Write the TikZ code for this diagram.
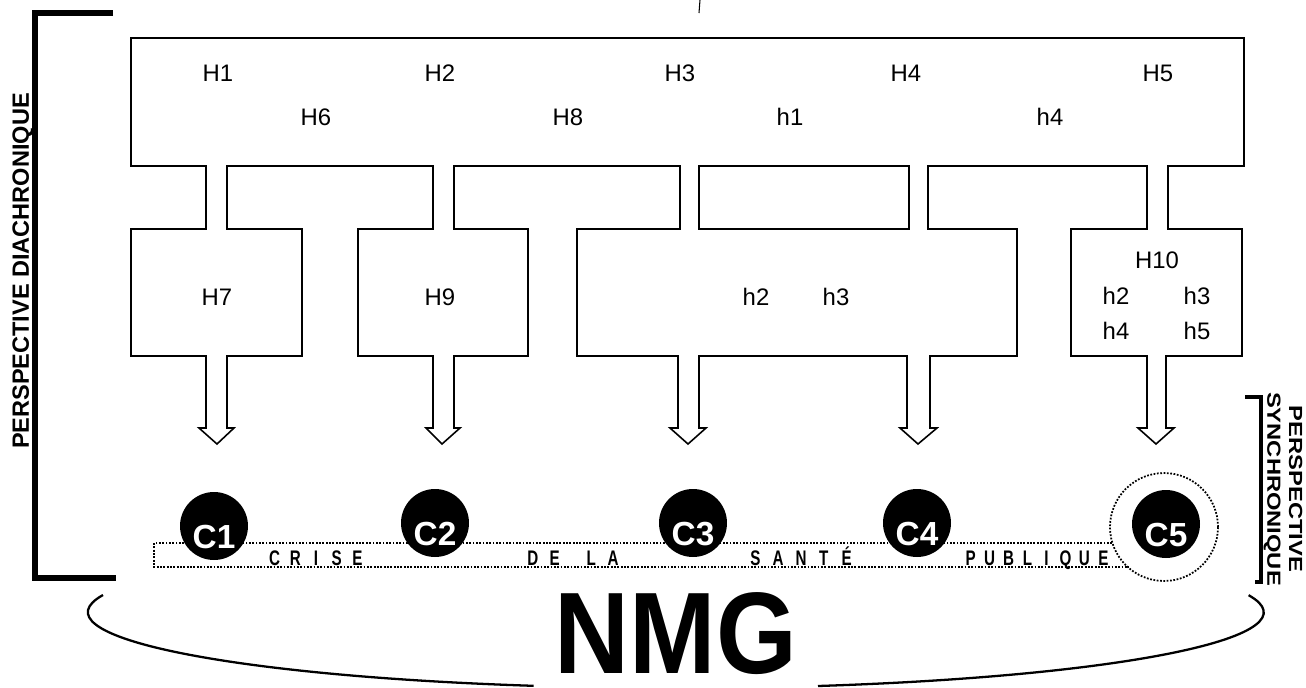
\documentclass[tikz,border=0pt]{standalone}
\usepackage{fontspec}
\setmainfont{Liberation Sans}
\usetikzlibrary{calc}

\newlength{\pitch}
\newcommand{\spread}[2][12.4pt]{\setlength{\pitch}{#1}%
  \foreach \l in {#2}{\makebox[\pitch]{\scalebox{0.72}[1]{\l}}}}

\begin{document}
\begin{tikzpicture}[x=0.02cm, y=-0.02cm,
  outline/.style={line width=0.9pt, line join=miter},
  hyp/.style={font=\fontsize{13.6}{15}\selectfont, inner sep=0pt},
  cball/.style={circle, fill=black, minimum size=1.36cm, inner sep=0pt},
  clab/.style={text=white, font=\bfseries\fontsize{19}{20}\selectfont, inner sep=0pt},
  crisis/.style={font=\bfseries\fontsize{12}{12}\selectfont, inner sep=0pt, anchor=base},
  dots/.style={line width=1pt, dash pattern=on 1pt off 0.9pt},
  bracket/.style={line width=3.2pt},
  side/.style={font=\bfseries, inner sep=0pt}]
  \fill[white] (0,0) rectangle (1306,687);
  \useasboundingbox (0,0) rectangle (1306,687);

  % hypotheses block with its channels and arrows
  \draw[outline] (131,38) -- (1244,38) -- (1244,166) -- (1168,166) -- (1168,229)
    -- (1242,229) -- (1242,356) -- (1166,356)
    -- (1166,428) -- (1174,428) -- (1156,444) -- (1138,428) -- (1147,428) -- (1147,356)
    -- (1071,356) -- (1071,229) -- (1147,229) -- (1147,166) -- (928,166) -- (928,229)
    -- (1017,229) -- (1017,356) -- (930,356)
    -- (930,428) -- (937,428) -- (918,444) -- (900,428) -- (907,428) -- (907,356)
    -- (699,356)
    -- (699,428) -- (706,428) -- (688,444) -- (670,428) -- (678,428) -- (678,356)
    -- (577,356) -- (577,229) -- (680,229) -- (680,166) -- (454,166) -- (454,229)
    -- (528,229) -- (528,356) -- (454,356)
    -- (454,428) -- (460,428) -- (442,444) -- (426,428) -- (433,428) -- (433,356)
    -- (358,356) -- (358,229) -- (433,229) -- (433,166) -- (227,166) -- (227,229)
    -- (302,229) -- (302,356) -- (227,356)
    -- (227,428) -- (234,428) -- (217,444) -- (199,428) -- (206,428) -- (206,356)
    -- (131,356) -- (131,229) -- (206,229) -- (206,166) -- (131,166) -- cycle;
  \draw[outline] (699,166) rectangle (909,229);
  \draw[line width=0.6pt] (700,0) -- (699,13);

  % labels of the hypotheses
  \node[hyp] (H1) at (218,73) {H1};
  \node[hyp] (H2) at (440,73) {H2};
  \node[hyp] (H3) at (680,73) {H3};
  \node[hyp] (H4) at (906,73) {H4};
  \node[hyp] (H5) at (1158,73) {H5};
  \node[hyp] (H6) at (316,117) {H6};
  \node[hyp] (H8) at (568,117) {H8};
  \node[hyp] (h1top) at (790,117) {h1};
  \node[hyp] (h4top) at (1050,117) {h4};
  \node[hyp] (H7) at (217,297) {H7};
  \node[hyp] (H9) at (440,297) {H9};
  \node[hyp] (h2mid) at (756,297) {h2};
  \node[hyp] (h3mid) at (836,297) {h3};
  \node[hyp] (H10) at (1157,260) {H10};
  \node[hyp] (h2right) at (1116,296) {h2};
  \node[hyp] (h3right) at (1197,296) {h3};
  \node[hyp] (h4right) at (1116,331) {h4};
  \node[hyp] (h5right) at (1197,331) {h5};

  % crisis band
  \draw[dots] (1112,543) -- (154,543) -- (154,567) -- (1129,567);
  \draw[dots] (1164,527) circle[radius=1.08cm];
  \node[cball] (c1) at (214,526) {};
  \node[cball] (c2) at (435,523) {};
  \node[cball] (c3) at (693,523) {};
  \node[cball] (c4) at (917,523) {};
  \node[cball] (c5) at (1166,524) {};
  \node[clab] (c1txt) at ([yshift=-6pt]c1.center) {C1};
  \node[clab] (c2txt) at ([yshift=-6pt]c2.center) {C2};
  \node[clab] (c3txt) at ([yshift=-6pt]c3.center) {C3};
  \node[clab] (c4txt) at ([yshift=-6pt]c4.center) {C4};
  \node[clab] (c5txt) at ([yshift=-6pt]c5.center) {C5};
  \node[crisis] (crise) at (316,565) {\spread[11.8pt]{C,R,I,S,E}};
  \node[crisis] (dela) at (573,565) {\spread{D,E}\hspace{8.5pt}\spread{L,A}};
  \node[crisis] (sante) at (801,565) {\spread[13pt]{S,A,N,T,É}};
  \node[crisis] (publique) at (1037,565) {\spread[10.8pt]{P,U,B,L,I,Q,U,E}};

  % perspectives
  \draw[bracket] (113,13) -- (35,13) -- (35,578) -- (116,578);
  \node[side, rotate=90, font=\bfseries\fontsize{13.4}{14}\selectfont] (diachro) at (23,271)
    {PERSPECTIVE DIACHRONIQUE};
  \draw[line width=2.3pt] (1245,397) -- (1261,397) -- (1261,582) -- (1255,582);
  \node[side, rotate=-90, align=center, font=\bfseries\fontsize{10.8}{12.5}\selectfont]
    (synchro) at (1283,489)
    {\scalebox{1.25}[1]{PERSPECTIVE}\\\scalebox{1.25}[1]{SYNCHRONIQUE}};

  % NMG
  \node[inner sep=0pt, font=\bfseries\fontsize{66}{66}\selectfont] (nmg) at (676,634)
    {\scalebox{0.895}[1]{NMG}};
  \draw[line width=1.3pt] (103,595) arc[start angle=167, end angle=256, x radius=11.76cm, y radius=1.52cm];
  \draw[line width=1.3pt] (818,686) arc[start angle=-76, end angle=13, x radius=11.76cm, y radius=1.52cm];
\end{tikzpicture}
\end{document}
